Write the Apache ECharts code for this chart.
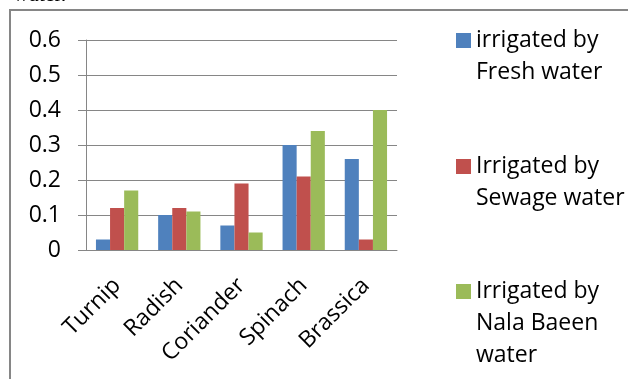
<!DOCTYPE html>
<html>
<head>
<meta charset="utf-8">
<script src="https://cdn.jsdelivr.net/npm/echarts@6/dist/echarts.min.js"></script>
<style>
  html, body { margin: 0; padding: 0; background: #fff; }
  #chart { width: 628px; height: 379px; }
</style>
</head>
<body>
<div id="chart"></div>
<script>
// data
const categories = ['Turnip', 'Radish', 'Coriander', 'Spinach', 'Brassica']
const seriesNames = ['irrigated by\nFresh water', 'Irrigated by\nSewage water', 'Irrigated by\nNala Baeen\nwater']
const freshWater = [0.03, 0.10, 0.07, 0.30, 0.26]
const sewageWater = [0.12, 0.12, 0.19, 0.21, 0.03]
const nalaBaeenWater = [0.17, 0.11, 0.05, 0.34, 0.40]
const yTicks = [0, 0.1, 0.2, 0.3, 0.4, 0.5, 0.6]

const colors = ['#4F81BD', '#C0504D', '#9BBB59']
const gray = '#868686'
const font = '"Open Sans", sans-serif'

// one legend per entry; blank lines on top keep the square level with the first text line
function legendFor(name, top) {
  const lines = name.split('\n').length
  return {
    top: top,
    left: 456,
    padding: 0,
    orient: 'vertical',
    selectedMode: false,
    icon: 'rect',
    itemWidth: 15,
    itemHeight: 15,
    data: [name],
    formatter: n => '\n'.repeat(lines - 1) + n,
    textStyle: {
      fontFamily: font,
      fontSize: 23,
      color: '#000',
      lineHeight: 32
    }
  }
}

const chart = echarts.init(document.getElementById('chart'))
chart.setOption({
  animation: false,
  color: colors,
  graphic: [
    {
      type: 'rect',
      shape: { x: 10, y: 10, width: 700, height: 500 },
      style: { fill: 'none', stroke: gray, lineWidth: 2 }
    },
    {
      type: 'text',
      left: 13,
      top: -16,
      style: { text: 'water.', font: '22px "Liberation Serif", serif', fill: '#000' }
    }
  ],
  legend: [
    legendFor(seriesNames[0], -7.5),
    legendFor(seriesNames[1], 118.5),
    legendFor(seriesNames[2], 211.5)
  ],
  grid: { left: 86, right: 231, top: 40, bottom: 129 },
  xAxis: {
    type: 'category',
    data: categories,
    axisLine: { lineStyle: { color: gray, width: 1 } },
    axisTick: { length: 8, lineStyle: { color: gray } },
    axisLabel: {
      rotate: 45,
      margin: 32,
      color: '#000',
      fontFamily: font,
      fontSize: 23
    }
  },
  yAxis: {
    type: 'value',
    min: 0,
    max: 0.6,
    interval: 0.1,
    axisLine: { show: true, lineStyle: { color: gray, width: 1 } },
    axisTick: { show: true, length: 8, lineStyle: { color: gray } },
    splitLine: { lineStyle: { color: gray, width: 1 } },
    axisLabel: {
      margin: 25,
      color: '#000',
      fontFamily: font,
      fontSize: 23,
      formatter: v => yTicks.includes(+v.toFixed(1)) ? String(+v.toFixed(1)) : ''
    }
  },
  series: [
    { name: seriesNames[0], type: 'bar', data: freshWater, barGap: '0%', barCategoryGap: '32%' },
    { name: seriesNames[1], type: 'bar', data: sewageWater },
    { name: seriesNames[2], type: 'bar', data: nalaBaeenWater }
  ]
})
</script>
</body>
</html>
